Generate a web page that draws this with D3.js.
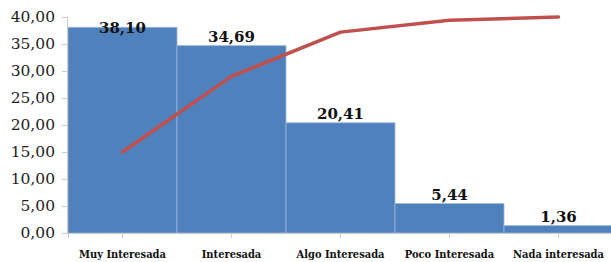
<!DOCTYPE html>
<html><head><meta charset="utf-8">
<script src="https://cdn.jsdelivr.net/npm/d3@7"></script>
<style>html,body{margin:0;padding:0;background:#fff;overflow:hidden}</style>
</head><body>
<svg id="c" width="611" height="262"></svg>
<script>
const categories = ["Muy Interesada","Interesada","Algo Interesada","Poco Interesada","Nada interesada"];
const barValues = [38.10, 34.69, 20.41, 5.44, 1.36];
const lineValues = [15.0, 29.0, 37.2, 39.4, 40.0];
const yTicks = [0,5,10,15,20,25,30,35,40];
const fmt = v => v.toFixed(2).replace(".", ",");

const svg = d3.select("#c");
const x = d3.scaleBand().domain(categories).range([68, 613]).padding(0);
const y = d3.scaleLinear().domain([0, 40]).range([233, 17]);

// bars
svg.append("g").selectAll("rect").data(barValues).join("rect")
  .attr("x", (d,i) => x(categories[i]))
  .attr("y", d => y(d))
  .attr("width", x.bandwidth())
  .attr("height", d => y(0) - y(d))
  .attr("fill", "#4F81BD")
  .attr("stroke", "#9db6da")
  .attr("stroke-width", 0.8);

// y axis
const ya = svg.append("g").attr("transform", "translate(67,0)")
  .call(d3.axisLeft(y).tickValues(yTicks).tickFormat(fmt).tickSize(5).tickPadding(7));
ya.select(".domain").attr("stroke", "#c8c8c8");
ya.selectAll(".tick line").attr("stroke", "#c8c8c8");
ya.selectAll("text").attr("font-family", "DejaVu Serif").attr("font-size", 15.5).attr("fill", "#222");

// x axis
const xa = svg.append("g").attr("transform", "translate(0,233)")
  .call(d3.axisBottom(x).tickSize(5).tickPadding(12));
xa.select(".domain").attr("stroke", "#c8c8c8");
xa.selectAll(".tick line").attr("stroke", "#d0d0d0");
xa.selectAll("text").attr("font-family", "DejaVu Serif Condensed, DejaVu Serif").attr("font-weight", "bold")
  .attr("font-size", 11).attr("fill", "#111");

// line
svg.append("path").datum(lineValues)
  .attr("d", d3.line().x((d,i) => x(categories[i]) + x.bandwidth()/2).y(d => y(d)))
  .attr("fill", "none").attr("stroke", "#C0504D").attr("stroke-width", 3.5)
  .attr("stroke-linejoin", "round").attr("stroke-linecap", "round");

// bar labels
svg.append("g").selectAll("text").data(barValues).join("text")
  .attr("x", (d,i) => x(categories[i]) + x.bandwidth()/2)
  .attr("y", d => Math.max(y(d) - 4, 33))
  .attr("text-anchor", "middle")
  .attr("font-family", "DejaVu Serif").attr("font-weight", "bold").attr("font-size", 15)
  .attr("fill", "#111")
  .text(fmt);
</script>
</body></html>
